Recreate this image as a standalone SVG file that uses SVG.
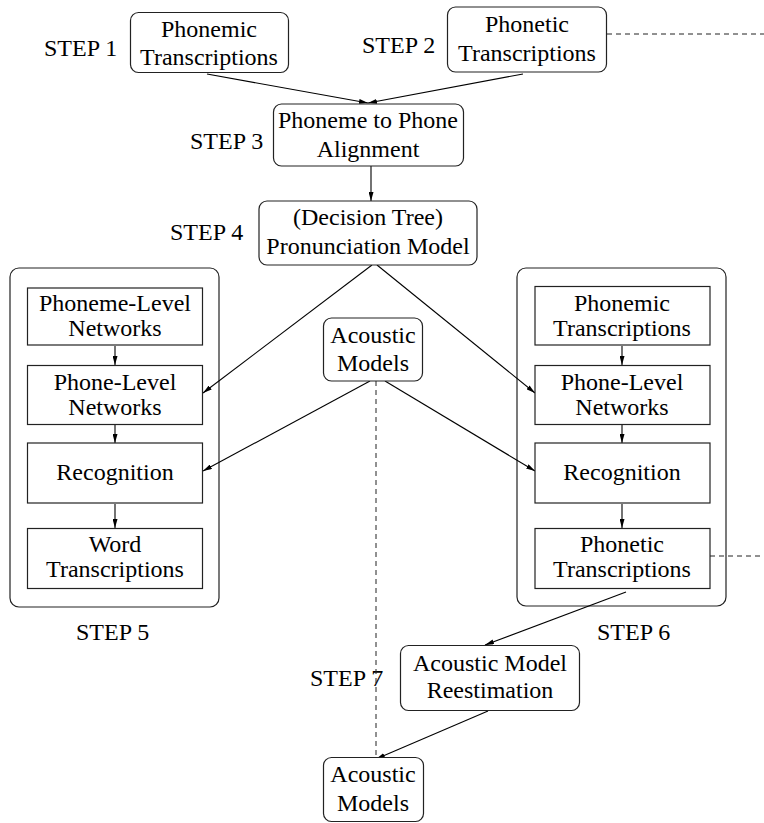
<svg xmlns="http://www.w3.org/2000/svg" width="764" height="823" viewBox="0 0 764 823" font-family="Liberation Serif, serif">
<defs>
<marker id="ah" viewBox="0 0 9 5" refX="9" refY="2.5" markerWidth="9" markerHeight="5" markerUnits="userSpaceOnUse" orient="auto">
<path d="M0,0 L9,2.5 L0,5 z" fill="#000"/>
</marker>
</defs>
<rect width="764" height="823" fill="#fff"/>
<g id="labels" font-size="24" fill="#000">
<text x="44" y="56" font-family="serif">STEP 1</text>
<text x="362" y="53" font-family="serif">STEP 2</text>
<text x="190" y="149" font-family="serif">STEP 3</text>
<text x="170" y="240" font-family="serif">STEP 4</text>
<text x="76" y="640" font-family="serif">STEP 5</text>
<text x="597" y="640" font-family="serif">STEP 6</text>
<text x="310" y="686" font-family="serif">STEP 7</text>
</g>
<g id="containers" fill="#fff" stroke="#222" stroke-width="1.2">
<rect x="10" y="268" width="209" height="339" rx="9"/>
<rect x="517" y="268" width="209" height="338" rx="9"/>
</g>
<g id="connectors" fill="none" stroke="#000" stroke-width="1.1">
<g marker-end="url(#ah)">
<line x1="207" y1="74" x2="368" y2="103"/>
<line x1="523" y1="74" x2="368" y2="103"/>
<line x1="371" y1="166" x2="371" y2="201"/>
<line x1="372" y1="265" x2="203" y2="393"/>
<line x1="377" y1="265" x2="535" y2="393"/>
<line x1="370" y1="381" x2="203" y2="471"/>
<line x1="385" y1="381" x2="535" y2="471"/>
<line x1="115" y1="346" x2="115" y2="365"/>
<line x1="115" y1="425" x2="115" y2="443"/>
<line x1="115" y1="504" x2="115" y2="528"/>
<line x1="622" y1="346" x2="622" y2="365"/>
<line x1="622" y1="425" x2="622" y2="443"/>
<line x1="622" y1="504" x2="622" y2="528"/>
<line x1="626" y1="592" x2="485" y2="645"/>
<line x1="488" y1="711" x2="376" y2="759"/>
</g>
<g stroke="#222" stroke-width="1" stroke-dasharray="5,4">
<line x1="607" y1="34" x2="764" y2="34"/>
<line x1="710" y1="556" x2="764" y2="556"/>
<line x1="376" y1="381" x2="376" y2="757"/>
</g>
</g>
<g id="nodes" font-size="24" text-anchor="middle">
<g id="n1"><rect x="130.5" y="12.5" width="158" height="60" rx="8" fill="#fff" stroke="#222" stroke-width="1.2"/><text x="209" y="37" font-family="serif">Phonemic</text><text x="209" y="65" font-family="serif">Transcriptions</text></g>
<g id="n2"><rect x="447.5" y="7" width="159" height="65" rx="8" fill="#fff" stroke="#222" stroke-width="1.2"/><text x="527" y="32" font-family="serif">Phonetic</text><text x="527" y="61" font-family="serif">Transcriptions</text></g>
<g id="n3"><rect x="273.5" y="104" width="190" height="62" rx="8" fill="#fff" stroke="#222" stroke-width="1.2"/><text x="368" y="128" font-family="serif">Phoneme to Phone</text><text x="368" y="157" font-family="serif">Alignment</text></g>
<g id="n4"><rect x="259" y="201" width="218" height="64" rx="8" fill="#fff" stroke="#222" stroke-width="1.2"/><text x="368" y="225" font-family="serif">(Decision Tree)</text><text x="368" y="254" font-family="serif">Pronunciation Model</text></g>
<g id="n5"><rect x="27.5" y="288" width="175" height="57" fill="#fff" stroke="#222" stroke-width="1.2"/><text x="115" y="311" font-family="serif">Phoneme-Level</text><text x="115" y="336" font-family="serif">Networks</text></g>
<g id="n6"><rect x="27.5" y="365.5" width="175" height="59" fill="#fff" stroke="#222" stroke-width="1.2"/><text x="115" y="390" font-family="serif">Phone-Level</text><text x="115" y="415" font-family="serif">Networks</text></g>
<g id="n7"><rect x="27.5" y="443" width="175" height="60" fill="#fff" stroke="#222" stroke-width="1.2"/><text x="115" y="480" font-family="serif">Recognition</text></g>
<g id="n8"><rect x="27.5" y="528.5" width="175" height="60" fill="#fff" stroke="#222" stroke-width="1.2"/><text x="115" y="552" font-family="serif">Word</text><text x="115" y="577" font-family="serif">Transcriptions</text></g>
<g id="n9"><rect x="535" y="286.5" width="175" height="58.5" fill="#fff" stroke="#222" stroke-width="1.2"/><text x="622" y="311" font-family="serif">Phonemic</text><text x="622" y="336" font-family="serif">Transcriptions</text></g>
<g id="n10"><rect x="535" y="365.5" width="175" height="59" fill="#fff" stroke="#222" stroke-width="1.2"/><text x="622" y="390" font-family="serif">Phone-Level</text><text x="622" y="415" font-family="serif">Networks</text></g>
<g id="n11"><rect x="535" y="443" width="175" height="60" fill="#fff" stroke="#222" stroke-width="1.2"/><text x="622" y="480" font-family="serif">Recognition</text></g>
<g id="n12"><rect x="535" y="528.5" width="175" height="60" fill="#fff" stroke="#222" stroke-width="1.2"/><text x="622" y="552" font-family="serif">Phonetic</text><text x="622" y="577" font-family="serif">Transcriptions</text></g>
<g id="n13"><rect x="323.5" y="318" width="99" height="63" rx="8" fill="#fff" stroke="#222" stroke-width="1.2"/><text x="373" y="343" font-family="serif">Acoustic</text><text x="373" y="371" font-family="serif">Models</text></g>
<g id="n14"><rect x="400.5" y="645.5" width="179" height="65" rx="8" fill="#fff" stroke="#222" stroke-width="1.2"/><text x="490" y="671" font-family="serif">Acoustic Model</text><text x="490" y="698" font-family="serif">Reestimation</text></g>
<g id="n15"><rect x="323.5" y="757.5" width="100" height="64" rx="8" fill="#fff" stroke="#222" stroke-width="1.2"/><text x="373" y="782" font-family="serif">Acoustic</text><text x="373" y="811" font-family="serif">Models</text></g>
</g>
</svg>
